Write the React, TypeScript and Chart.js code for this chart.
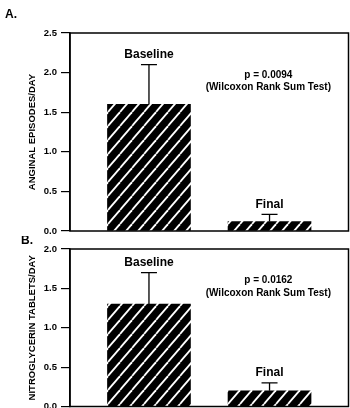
import React, { useEffect, useRef } from "react";
import { Chart, registerables } from "chart.js";
Chart.register(...registerables);

const categories = ["Baseline", "Final"];
const anginalMeans = [1.6, 0.12];
const anginalUpper = [2.1, 0.21];
const nitroMeans = [1.3, 0.2];
const nitroUpper = [1.7, 0.3];
const anginalTicks = [0, 0.5, 1.0, 1.5, 2.0, 2.5];
const nitroTicks = [0, 0.5, 1.0, 1.5, 2.0];
const anginalP = ["p = 0.0094", "(Wilcoxon Rank Sum Test)"];
const nitroP = ["p = 0.0162", "(Wilcoxon Rank Sum Test)"];

const FONT = "'Liberation Sans', Arial, Helvetica, sans-serif";

function makeHatch(): CanvasPattern | string {
  const w = 12;
  const h = 14;
  const c = document.createElement("canvas");
  c.width = w;
  c.height = h;
  const g = c.getContext("2d");
  if (!g) return "#000";
  g.fillStyle = "#000";
  g.fillRect(0, 0, w, h);
  g.strokeStyle = "#fff";
  g.lineWidth = 1.8;
  for (const x0 of [-w, 0, w]) {
    g.beginPath();
    g.moveTo(x0, h);
    g.lineTo(x0 + w, 0);
    g.stroke();
  }
  const p = g.createPattern(c, "repeat");
  return p || "#000";
}

type PanelProps = {
  top: number;
  height: number;
  padTop: number;
  padBottom: number;
  yMax: number;
  ticks: number[];
  title: string;
  letter: string;
  letterX: number;
  letterY: number;
  means: number[];
  upper: number[];
  pLines: string[];
  pAnchorX: number;
  pAnchorY: number;
};

function Panel(props: PanelProps) {
  const ref = useRef<HTMLCanvasElement | null>(null);
  useEffect(() => {
    const canvas = ref.current;
    if (!canvas) return;
    const hatch = makeHatch();
    const overlay = {
      id: "overlay",
      afterDatasetsDraw(chart: any) {
        const ctx = chart.ctx as CanvasRenderingContext2D;
        const a = chart.chartArea;
        const xs = chart.scales.x;
        const ys = chart.scales.y;
        ctx.save();
        // frame
        ctx.strokeStyle = "#000";
        ctx.lineWidth = 1.5;
        ctx.strokeRect(a.left, a.top, a.right - a.left, a.bottom - a.top);
        // error bars and labels
        ctx.lineWidth = 1.3;
        ctx.fillStyle = "#000";
        ctx.textAlign = "center";
        ctx.textBaseline = "middle";
        props.means.forEach((m, i) => {
          const x = xs.getPixelForValue(i + 1);
          const y0 = ys.getPixelForValue(m);
          const y1 = ys.getPixelForValue(props.upper[i]);
          ctx.beginPath();
          ctx.moveTo(x, y0);
          ctx.lineTo(x, y1);
          ctx.moveTo(x - 8, y1);
          ctx.lineTo(x + 8, y1);
          ctx.stroke();
          ctx.font = `bold 12px ${FONT}`;
          ctx.fillText(categories[i], x, y1 - 10);
        });
        // p-value text
        ctx.font = `bold 10px ${FONT}`;
        const px = xs.getPixelForValue(props.pAnchorX);
        const py = ys.getPixelForValue(props.pAnchorY);
        props.pLines.forEach((t, i) => ctx.fillText(t, px, py + i * 12.5));
        // panel letter
        ctx.textAlign = "left";
        ctx.font = `bold 12px ${FONT}`;
        ctx.fillText(props.letter, props.letterX, props.letterY);
        ctx.restore();
      },
    };
    const chart = new Chart(canvas, {
      type: "bar",
      data: {
        datasets: [
          {
            data: props.means.map((v, i) => ({ x: i + 1, y: v })),
            backgroundColor: hatch as any,
            borderWidth: 0,
            barThickness: 83,
          },
        ],
      },
      options: {
        responsive: false,
        animation: false,
        devicePixelRatio: 1,
        layout: { padding: { top: props.padTop, bottom: props.padBottom, left: 0, right: 1.5 } },
        plugins: { legend: { display: false }, tooltip: { enabled: false } },
        scales: {
          x: { type: "linear", min: 0.345, max: 2.655, offset: false, display: false, grid: { offset: false } },
          y: {
            min: 0,
            max: props.yMax,
            afterBuildTicks: (s: any) => {
              s.ticks = props.ticks.map((v) => ({ value: v }));
            },
            afterFit: (s: any) => {
              s.width = 70;
              s.paddingTop = 0;
              s.paddingBottom = 0;
            },
            ticks: {
              color: "#000",
              padding: 4,
              font: { family: FONT, size: 9.5, weight: "bold" },
              callback: (v: any) => Number(v).toFixed(1),
            },
            grid: { drawOnChartArea: false, drawTicks: true, tickLength: 9, color: "#000", lineWidth: 1.2 },
            border: { display: true, color: "#000", width: 1.5 },
            title: {
              display: true,
              text: props.title,
              color: "#000",
              font: { family: FONT, size: 9.5, weight: "bold" },
              padding: { top: 27, bottom: 0 },
            },
          },
        },
      },
      plugins: [overlay],
    } as any);
    return () => chart.destroy();
  }, []);
  return (
    <canvas
      ref={ref}
      width={350}
      height={props.height}
      style={{ position: "absolute", left: 0, top: props.top, width: 350, height: props.height }}
    />
  );
}

export default function App() {
  return (
    <div style={{ position: "absolute", left: 0, top: 0, width: 350, height: 408, background: "#fff", overflow: "hidden" }}>
      <Panel
        top={0}
        height={236}
        padTop={33}
        padBottom={5}
        yMax={2.5}
        ticks={anginalTicks}
        title="ANGINAL EPISODES/DAY"
        letter="A."
        letterX={5}
        letterY={15}
        means={anginalMeans}
        upper={anginalUpper}
        pLines={anginalP}
        pAnchorX={1.99}
        pAnchorY={1.97}
      />
      <Panel
        top={236}
        height={172}
        padTop={13}
        padBottom={1.5}
        yMax={2.0}
        ticks={nitroTicks}
        title="NITROGLYCERIN TABLETS/DAY"
        letter="B."
        letterX={21}
        letterY={5}
        means={nitroMeans}
        upper={nitroUpper}
        pLines={nitroP}
        pAnchorX={1.99}
        pAnchorY={1.6}
      />
    </div>
  );
}
